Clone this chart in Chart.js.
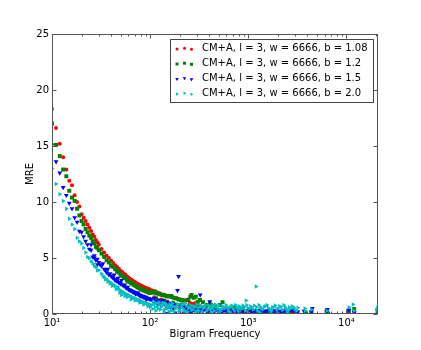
<!DOCTYPE html>
<html>
<head>
<meta charset="utf-8">
<script src="https://cdn.jsdelivr.net/npm/chart.js@4.4.1/dist/chart.umd.min.js"></script>
<style>
  body { margin: 0; background: #fff; }
  #grafico-mre { display: block; }
</style>
</head>
<body>
<canvas id="grafico-mre" width="421" height="350"></canvas>
<script>
// ================= DADOS DO GRÁFICO =================
const rotulos = [
    'CM+A, l = 3, w = 6666, b = 1.08',
    'CM+A, l = 3, w = 6666, b = 1.2',
    'CM+A, l = 3, w = 6666, b = 1.5',
    'CM+A, l = 3, w = 6666, b = 2.0'
]

// frequências baixas (comuns às 4 séries)
const freqBaixa = [10, 11, 12, 13, 14, 15, 16, 17, 18, 19, 20, 21, 22, 23, 24, 25, 26, 27, 28, 29, 30,
    32, 34, 36, 38, 40, 42, 44, 46, 48, 50, 52, 54, 56, 58, 60, 62, 64, 66, 68, 70, 72, 74, 76, 78, 80,
    82, 84, 86, 88, 90, 92, 94, 96, 98, 100]

const mreVermelho = [18.3, 16.6, 15.2, 14.0, 12.9, 11.9, 11.5, 10.6, 10.0, 9.6, 8.9, 8.6, 8.3, 8.0, 7.7, 7.4, 7.1, 6.9, 6.6, 6.4, 6.2,
    5.8, 5.5, 5.2, 5.0, 4.75, 4.55, 4.35, 4.2, 4.05, 3.85, 3.75, 3.6, 3.5, 3.35, 3.25, 3.15, 3.05, 3.0, 2.9, 2.85, 2.75, 2.7, 2.65,
    2.6, 2.55, 2.5, 2.45, 2.4, 2.35, 2.3, 2.3, 2.25, 2.2, 2.2, 2.15]
const mreVerde = [17.0, 15.1, 14.1, 12.9, 12.3, 11.0, 10.4, 10.1, 9.4, 8.8, 8.3, 8.0, 7.6, 7.3, 7.0, 6.8, 6.5, 6.3, 6.0, 5.9, 5.7,
    5.4, 5.1, 4.8, 4.6, 4.3, 4.2, 4.0, 3.8, 3.7, 3.5, 3.4, 3.3, 3.2, 3.0, 2.9, 2.85, 2.75, 2.7, 2.6, 2.55, 2.5, 2.4, 2.35, 2.3, 2.25,
    2.2, 2.15, 2.1, 2.1, 2.05, 2.0, 2.0, 1.95, 1.9, 1.9]
const mreAzul = [15.1, 13.6, 12.6, 11.3, 10.6, 9.9, 9.4, 8.6, 8.2, 7.4, 7.3, 6.9, 6.5, 6.2, 5.8, 5.7, 5.1, 5.0, 4.8, 4.4, 4.6,
    4.3, 4.0, 3.7, 3.5, 3.4, 3.2, 3.0, 2.9, 2.8, 2.7, 2.6, 2.5, 2.4, 2.3, 2.2, 2.15, 2.1, 2.0, 1.95, 1.9, 1.85, 1.8, 1.75, 1.7, 1.65,
    1.6, 1.6, 1.55, 1.5, 1.5, 1.45, 1.4, 1.4, 1.35, 1.3]
const mreCiano = [13.0, 11.6, 10.7, 10.1, 9.4, 8.5, 8.0, 7.6, 6.8, 6.5, 6.3, 5.9, 5.5, 5.1, 5.0, 4.7, 4.5, 4.3, 4.2, 3.9, 3.9,
    3.6, 3.3, 3.1, 2.9, 2.8, 2.6, 2.45, 2.3, 2.2, 2.1, 2.0, 1.9, 1.8, 1.75, 1.7, 1.6, 1.55, 1.5, 1.45, 1.4, 1.35, 1.3, 1.25, 1.2, 1.15,
    1.1, 1.1, 1.05, 1.0, 1.0, 0.95, 0.9, 0.9, 0.85, 0.8]

// pontos espalhados / cauda [frequência, MRE]
const caudaVermelho = [[104, 2.1], [108, 2.05], [112, 2.0], [116, 1.95], [120, 1.9], [125, 1.85], [131, 1.7], [137, 1.75], [144, 1.65],
    [151, 1.6], [159, 1.6], [167, 1.5], [176, 1.45], [185, 1.4], [195, 1.35], [206, 1.3], [218, 1.25], [230, 1.2], [243, 1.3],
    [254, 1.0], [268, 0.9], [285, 0.95], [300, 0.8], [320, 0.7], [345, 0.6], [370, 0.55], [406, 0.95], [430, 0.5], [470, 0.4],
    [520, 0.35], [580, 0.45], [640, 0.3], [700, 0.2], [780, 0.35], [860, 0.25], [950, 0.15], [1050, 0.3], [1180, 0.2], [1320, 0.1],
    [1480, 0.25], [1650, 0.15], [1850, 0.1], [2100, 0.2], [2400, 0.1], [2800, 0.15], [3200, 0.05], [4400, 0.1], [6300, 0.05],
    [6500, 0.1], [10600, 0.05], [12000, 0.1], [20800, 0.15], [110, 1.5], [130, 1.3], [150, 1.1], [175, 0.9], [200, 0.75],
    [240, 0.6], [280, 0.4], [330, 0.3], [390, 0.2], [260, 0.15]]
const caudaVerde = [[104, 1.95], [108, 1.9], [112, 2.0], [117, 1.85], [122, 1.8], [128, 1.75], [134, 1.7], [141, 1.65], [148, 1.6],
    [156, 1.55], [165, 1.6], [174, 1.45], [184, 1.4], [195, 1.3], [207, 1.25], [220, 1.2], [245, 1.25], [257, 1.55], [264, 1.7],
    [278, 1.45], [292, 1.55], [306, 1.1], [322, 1.25], [346, 1.05], [380, 0.8], [418, 0.8], [460, 0.7], [514, 0.8], [547, 1.05],
    [600, 0.5], [660, 0.4], [730, 0.55], [800, 0.3], [880, 0.45], [970, 0.25], [1070, 0.35], [1180, 0.2], [1300, 0.3], [1450, 0.15],
    [1600, 0.25], [1800, 0.1], [2000, 0.2], [2300, 0.15], [2600, 0.1], [3000, 0.2], [3800, 0.15], [4400, 0.1], [6300, 0.25],
    [6400, 0.05], [10600, 0.3], [12000, 0.45], [20800, 0.4], [115, 1.4], [140, 1.2], [170, 1.0], [210, 0.85], [250, 0.7],
    [300, 0.6], [360, 0.45], [440, 0.35]]
const caudaAzul = [[25, 6.2], [27, 5.2], [29, 4.9], [31, 4.4], [33, 4.5], [35, 3.9], [37, 4.0], [39, 3.6], [41, 3.3], [43, 3.5],
    [45, 3.1], [47, 3.2], [49, 2.8], [51, 3.0], [55, 2.6], [59, 2.4], [63, 2.1], [67, 2.0], [71, 1.8], [75, 1.9], [79, 1.6],
    [85, 1.5], [91, 1.3], [97, 1.4], [104, 1.3], [110, 1.4], [116, 1.15], [122, 1.25], [128, 1.1], [135, 1.2], [142, 1.0],
    [150, 1.05], [158, 0.9], [167, 0.95], [176, 0.8], [186, 0.85], [190, 2.1], [195, 3.35], [205, 0.7], [216, 0.75], [228, 0.6],
    [240, 0.65], [255, 0.5], [270, 0.55], [285, 0.45], [300, 0.5], [324, 1.7], [330, 0.4], [360, 0.45], [390, 0.35], [405, 1.1],
    [420, 0.4], [440, 0.3], [480, 0.4], [520, 0.3], [560, 0.35], [600, 0.25], [650, 0.35], [700, 0.3], [760, 0.2], [820, 0.35],
    [900, 0.25], [980, 0.3], [1070, 0.2], [1160, 0.35], [1260, 0.25], [1370, 0.3], [1500, 0.2], [1640, 0.35], [1800, 0.25],
    [1950, 0.3], [2150, 0.2], [2350, 0.3], [2600, 0.25], [2900, 0.3], [3200, 0.2], [3700, 0.25], [4400, 0.2], [4500, 0.5],
    [6300, 0.2], [6400, 0.4], [10600, 0.35], [12000, 0.15], [20800, 0.3], [150, 0.05], [180, 0.1], [220, 0.1], [260, 0.15],
    [500, 0.1], [800, 0.1], [1300, 0.1], [2000, 0.05]]
const faixaAzul = [[320, 0.3], [345, 0.25], [375, 0.3], [410, 0.2], [455, 0.25], [500, 0.3], [540, 0.2], [580, 0.3], [625, 0.2],
    [675, 0.25], [730, 0.35], [790, 0.25], [860, 0.3], [940, 0.2], [1020, 0.3], [1110, 0.25], [1210, 0.2], [1310, 0.3], [1430, 0.25],
    [1570, 0.3], [1720, 0.2], [1870, 0.3], [2050, 0.25], [2250, 0.35], [2480, 0.2], [2750, 0.3], [3050, 0.25], [110, 1.0],
    [120, 0.9], [132, 0.8], [145, 0.7], [160, 0.6], [172, 0.5], [200, 0.45], [235, 0.4], [250, 0.3], [280, 0.35]]
const caudaCiano = [[33, 3.4], [35, 3.1], [37, 2.9], [39, 2.7], [41, 2.5], [43, 2.6], [45, 2.2], [47, 2.4], [49, 1.9], [51, 1.7],
    [53, 1.9], [55, 1.6], [58, 1.5], [61, 1.6], [64, 1.3], [67, 1.4], [70, 1.2], [74, 1.25], [78, 1.0], [82, 1.1], [86, 0.85],
    [90, 0.95], [95, 0.7], [100, 0.6], [104, 0.8], [108, 1.1], [112, 0.6], [116, 0.95], [120, 0.5], [125, 0.85], [130, 0.65],
    [135, 1.0], [140, 0.4], [146, 0.75], [152, 0.55], [158, 0.85], [165, 0.3], [172, 0.7], [180, 0.45], [188, 0.8], [196, 0.35],
    [205, 0.6], [214, 0.85], [224, 0.25], [235, 0.7], [246, 0.5], [258, 0.8], [270, 0.35], [284, 0.6], [298, 0.85], [313, 0.3],
    [330, 0.65], [346, 0.5], [365, 0.8], [385, 0.4], [405, 0.6], [428, 0.75], [450, 0.3], [476, 0.6], [502, 0.75], [530, 0.4],
    [560, 0.6], [592, 0.8], [625, 0.35], [660, 0.65], [700, 0.5], [740, 0.8], [785, 0.4], [830, 0.6], [880, 0.75], [935, 0.3],
    [950, 1.2], [990, 0.55], [1050, 0.7], [1120, 0.4], [1200, 2.45], [1210, 0.6], [1280, 0.8], [1360, 0.5], [1450, 0.65],
    [1550, 0.8], [1650, 0.4], [1760, 0.6], [1880, 0.75], [2000, 0.5], [2150, 0.65], [2300, 0.8], [2450, 0.45], [2620, 0.6],
    [2800, 0.7], [3000, 0.4], [3200, 0.55], [3770, 0.5], [3800, 0.3], [4400, 0.4], [6340, 0.3], [10600, 0.6], [11700, 0.85],
    [12000, 0.3], [20600, 0.35], [20900, 0.6], [200, 0.1], [300, 0.15], [420, 0.2], [500, 0.1], [650, 0.15], [800, 0.2],
    [1000, 0.1], [1300, 0.15], [1700, 0.2], [2000, 0.1], [2500, 0.15]]
const faixaCiano = [[106, 0.45], [110, 0.9], [114, 0.3], [118, 0.7], [123, 1.05], [127, 0.4], [133, 0.8], [138, 0.2], [143, 0.95],
    [149, 0.5], [155, 0.25], [161, 0.65], [168, 0.95], [175, 0.2], [183, 0.6], [192, 0.9], [200, 0.3], [210, 0.75], [219, 0.45],
    [229, 0.95], [240, 0.2], [252, 0.6], [264, 0.4], [277, 0.7], [291, 0.25], [306, 0.55], [321, 0.8], [338, 0.2], [355, 0.6],
    [375, 0.3], [395, 0.75], [416, 0.45], [439, 0.6], [463, 0.85], [489, 0.45], [516, 0.25], [545, 0.7], [576, 0.5], [608, 0.65],
    [642, 0.2], [680, 0.75], [720, 0.3], [762, 0.6], [807, 0.7], [855, 0.45], [907, 0.6], [962, 0.8], [1020, 0.45], [1085, 0.6],
    [1150, 0.75], [1240, 0.3], [1320, 0.65], [1410, 0.4], [1500, 0.7], [1600, 0.55], [1710, 0.35], [1820, 0.6], [1950, 0.4],
    [2080, 0.7], [2230, 0.35], [2380, 0.6], [2540, 0.3], [2720, 0.5], [2900, 0.6], [3100, 0.3]]

// ticks dos eixos
const ticksX = [10, 100, 1000, 10000]
const rotulosTicksX = ['10¹', '10²', '10³', '10⁴']
const ticksY = [0, 5, 10, 15, 20, 25]
const rotulosTicksY = ['0', '5', '10', '15', '20', '25']
const multiplicadoresMenores = [2, 3, 4, 5, 6, 7, 8, 9]

// junta frequência baixa + caudas em pontos {x, y}
function montarPontos(valoresBaixos, ...caudas) {
    const pontos = freqBaixa.map((f, i) => ({ x: f, y: valoresBaixos[i] }))
    caudas.forEach(cauda => cauda.forEach(p => pontos.push({ x: p[0], y: p[1] })))
    return pontos
}

Chart.defaults.font.family = '"DejaVu Sans", sans-serif'
Chart.defaults.font.size = 10
Chart.defaults.color = '#000'

//============= MOLDURA, TICKS PARA DENTRO E LEGENDA =============
const molduraELegenda = {
    id: 'molduraELegenda',
    afterDraw(chart) {
        const { ctx, chartArea: a, scales } = chart
        const esq = Math.round(a.left) + 0.5
        const dir = Math.round(a.right) - 0.5
        const topo = Math.round(a.top) + 0.5
        const base = Math.round(a.bottom) - 0.5
        ctx.save()
        ctx.strokeStyle = '#555'
        ctx.lineWidth = 1
        ctx.strokeRect(esq, topo, dir - esq, base - topo)

        ctx.beginPath()
        // ticks do eixo x (maiores e menores), em baixo e em cima
        ticksX.forEach(v => {
            const px = Math.round(scales.x.getPixelForValue(v)) + 0.5
            ctx.moveTo(px, base); ctx.lineTo(px, base - 4)
            ctx.moveTo(px, topo); ctx.lineTo(px, topo + 4)
            multiplicadoresMenores.forEach(m => {
                const vm = v * m
                if (vm > scales.x.max) return
                const pm = Math.round(scales.x.getPixelForValue(vm)) + 0.5
                ctx.moveTo(pm, base); ctx.lineTo(pm, base - 2)
                ctx.moveTo(pm, topo); ctx.lineTo(pm, topo + 2)
            })
        })
        // ticks do eixo y, esquerda e direita
        ticksY.forEach(v => {
            const py = Math.round(scales.y.getPixelForValue(v)) + 0.5
            ctx.moveTo(esq, py); ctx.lineTo(esq + 4, py)
            ctx.moveTo(dir, py); ctx.lineTo(dir - 4, py)
        })
        ctx.stroke()

        // legenda dentro da área do gráfico
        const caixa = { x: 170.5, y: 39.5, w: 203, h: 63 }
        ctx.fillStyle = '#fff'
        ctx.fillRect(caixa.x, caixa.y, caixa.w, caixa.h)
        ctx.strokeStyle = '#444'
        ctx.strokeRect(caixa.x, caixa.y, caixa.w, caixa.h)
        ctx.font = '10px "DejaVu Sans", sans-serif'
        ctx.textBaseline = 'middle'
        ctx.textAlign = 'left'
        chart.data.datasets.forEach((ds, i) => {
            const yLinha = 48.5 + i * 15
            const xs = [177, 184.5, 191.5]
            const dy = [0.5, -0.3, 0.8]
            ctx.fillStyle = ds.backgroundColor
            xs.forEach((xm, k) => {
                Chart.helpers.drawPoint(ctx, {
                    pointStyle: ds.pointStyle,
                    rotation: ds.rotation || 0,
                    radius: ds.pointRadius * 0.75,
                    borderWidth: 0
                }, xm, yLinha + dy[k])
            })
            ctx.fillStyle = '#000'
            ctx.fillText(ds.label, 202, yLinha)
        })
        ctx.restore()
    }
}

const ctx = document.getElementById('grafico-mre')

const graficoMRE = new Chart(ctx, {
    type: 'scatter',
    data: {
        datasets: [{
            label: rotulos[0],
            data: montarPontos(mreVermelho, caudaVermelho),
            backgroundColor: '#ff0000',
            borderColor: '#ff0000',
            borderWidth: 0,
            pointStyle: 'circle',
            pointRadius: 2,
            order: 3,
            clip: 0
        }, {
            label: rotulos[1],
            data: montarPontos(mreVerde, caudaVerde),
            backgroundColor: '#008000',
            borderColor: '#008000',
            borderWidth: 0,
            pointStyle: 'rect',
            pointRadius: 2.8,
            order: 2,
            clip: 0
        }, {
            label: rotulos[2],
            data: montarPontos(mreAzul, caudaAzul, faixaAzul),
            backgroundColor: '#0000ff',
            borderColor: '#0000ff',
            borderWidth: 0,
            pointStyle: 'triangle',
            rotation: 180,
            pointRadius: 2.8,
            order: 1,
            clip: 0
        }, {
            label: rotulos[3],
            data: montarPontos(mreCiano, caudaCiano, faixaCiano),
            backgroundColor: '#00bfbf',
            borderColor: '#00bfbf',
            borderWidth: 0,
            pointStyle: 'triangle',
            rotation: 90,
            pointRadius: 2.6,
            order: 0,
            clip: 0
        }]
    },
    options: {
        responsive: false,
        animation: false,
        devicePixelRatio: 1,
        layout: { padding: { left: 0, right: 43, top: 34, bottom: 0 } },
        plugins: {
            legend: { display: false },
            tooltip: { enabled: false }
        },
        scales: {
            x: {
                type: 'logarithmic',
                position: 'bottom',
                min: 10,
                max: 21000,
                afterBuildTicks: s => { s.ticks = ticksX.map(v => ({ value: v })) },
                afterFit: s => { s.height = 36 },
                grid: { display: false, drawTicks: false },
                border: { display: false },
                ticks: {
                    padding: 3,
                    maxRotation: 0,
                    autoSkip: false,
                    callback: (v, i) => rotulosTicksX[i]
                },
                title: { display: true, text: 'Bigram Frequency', padding: { top: 0, bottom: 10 } }
            },
            y: {
                min: 0,
                max: 25,
                afterBuildTicks: s => { s.ticks = ticksY.map(v => ({ value: v })) },
                afterFit: s => { s.width = 52 },
                grid: { display: false, drawTicks: false },
                border: { display: false },
                ticks: {
                    padding: 3,
                    callback: (v, i) => rotulosTicksY[i]
                },
                title: { display: true, text: 'MRE', padding: { top: 24, bottom: 0 } }
            }
        }
    },
    plugins: [molduraELegenda]
})
</script>
</body>
</html>
